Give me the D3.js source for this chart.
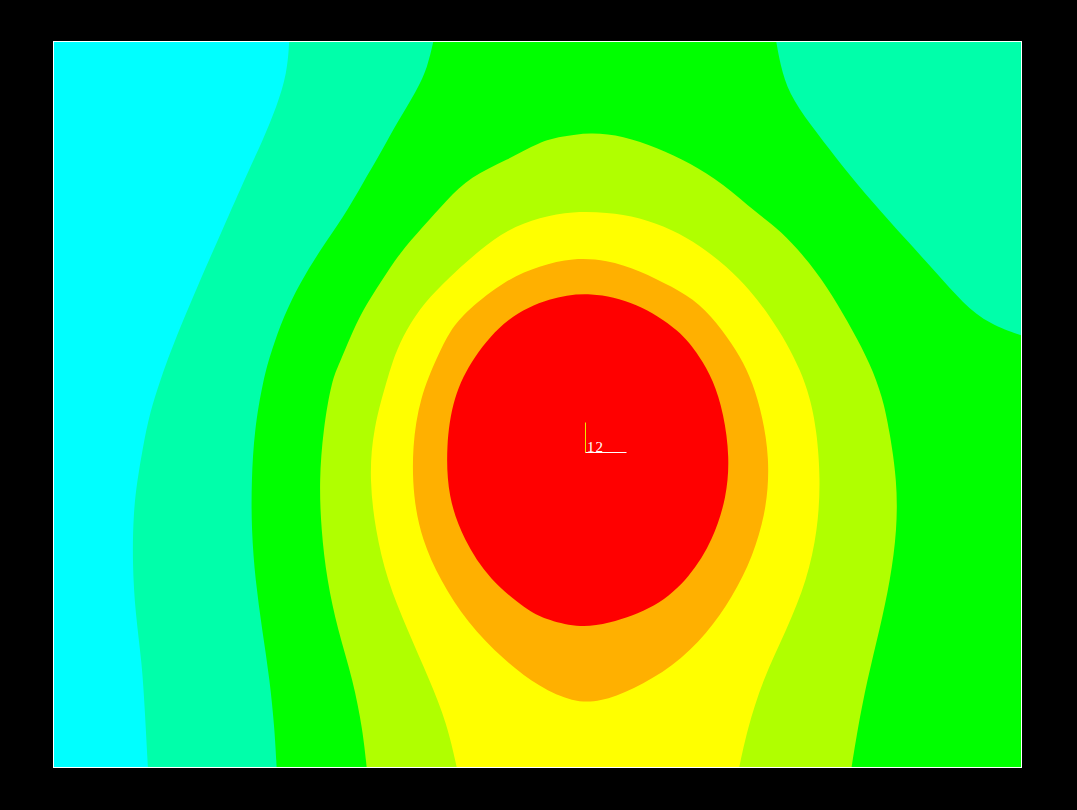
<!DOCTYPE html>
<html>
<head>
<meta charset="utf-8">
<script src="https://cdn.jsdelivr.net/npm/d3@7"></script>
<style>
  html, body { margin: 0; padding: 0; background: #000; }
  svg { display: block; }
</style>
</head>
<body>
<svg id="chart" width="1077" height="810"></svg>
<script>
// ---- Data (plot-space units: x 0..100, y 0..75, y downward) ----
const xDomain = [0, 100];
const yDomain = [0, 75];

// Band colours from lowest to highest
const bandColors = ["#00ffff", "#00ffaa", "#00ff00", "#b0ff00", "#ffff00", "#ffb000", "#ff0000"];

// cyan | aqua boundary (open, top edge -> bottom edge)
const cyanEdge = [[24.4,0],[24.2,3.3],[23.1,6.8],[21.7,10.2],[20.1,13.6],[17.5,19.5],[15.2,24.7],[12.3,31.6],[11.1,35.0],[10.0,38.4],[9.3,41.9],[8.7,45.4],[8.3,48.8],[8.2,53.9],[8.5,59.1],[9.2,64.3],[9.5,69.4],[9.8,75]];

// aqua | green boundary, left side (open, top -> bottom)
const aquaLeftEdge = [[39.3,0],[38.7,2.7],[37.6,5.1],[35.5,8.5],[34.0,11.3],[32.0,14.7],[30.0,18.2],[27.6,21.6],[25.5,25.0],[23.8,28.5],[22.6,31.9],[21.7,35.0],[20.8,40.2],[20.5,45.4],[20.5,50.5],[20.9,55.7],[21.6,60.8],[22.4,66.0],[22.9,71.2],[23.1,75]];

// aqua | green boundary, top-right corner (open, top edge -> right edge)
const aquaRightEdge = [[74.7,0],[75.3,3.3],[76.4,6.1],[78.9,9.5],[81.6,13.0],[84.7,16.7],[88.2,20.6],[91.3,24.0],[94.0,27.1],[96.8,29.3],[100,30.4]];

// green | yellow-green boundary (open, bottom edge -> around top -> bottom edge)
const ygEdge = [[32.4,75],[32.0,71.2],[31.0,66.0],[29.4,60.8],[28.3,55.7],[27.7,50.5],[27.5,45.4],[27.9,40.2],[28.8,35.0],[29.6,33.3],[30.7,30.6],[32.0,27.8],[33.8,25.0],[35.8,21.9],[38.2,19.2],[40.7,16.4],[43.1,14.0],[46.9,12.3],[50.3,10.4],[52.4,9.9],[55.5,9.4],[58.9,9.8],[62.4,11.0],[65.8,12.6],[69.2,14.7],[72.7,17.8],[75.1,19.5],[78.2,22.9],[80.6,26.4],[82.6,29.9],[84.4,33.3],[85.7,36.8],[86.4,40.2],[87.2,45.4],[87.2,50.5],[86.5,55.7],[85.4,60.8],[84.1,66.0],[83.1,71.2],[82.5,75]];

// yellow-green | yellow boundary (open, bottom -> around top -> bottom)
const yellowEdge = [[41.7,75],[40.7,70.5],[38.9,66.0],[36.6,60.8],[34.5,55.7],[33.3,50.5],[32.7,45.4],[33.0,40.2],[34.8,34.0],[35.5,31.9],[36.9,29.1],[38.9,26.4],[41.7,23.7],[44.1,21.6],[46.9,19.5],[50.3,18.2],[53.7,17.6],[57.2,17.7],[60.6,18.2],[64.0,19.5],[66.8,21.1],[69.6,23.3],[72.0,25.7],[74.1,28.5],[75.8,31.2],[77.2,34.0],[78.2,36.8],[78.9,40.2],[79.3,45.4],[79.0,50.5],[77.9,55.7],[75.8,60.8],[73.3,66.0],[71.7,71.2],[70.9,75]];

// yellow | orange boundary (closed)
const orangeEdge = [[50.3,23.2],[53.7,22.4],[57.2,22.6],[60.6,23.7],[64.0,25.4],[66.8,27.1],[69.2,29.9],[71.0,32.6],[72.3,35.3],[73.3,38.8],[74.0,43.0],[73.8,48.1],[72.3,53.3],[70.2,57.4],[67.6,61.2],[64.0,64.7],[59.9,67.0],[56.5,68.3],[53.7,68.3],[50.3,66.8],[46.5,63.9],[42.8,60.1],[40.0,55.7],[38.1,51.5],[37.2,47.1],[37.1,41.9],[37.9,36.8],[39.7,32.6],[41.0,29.9],[42.8,27.8],[46.7,24.7]];

// orange | red boundary (closed)
const redEdge = [[51.3,26.5],[55.5,25.9],[60.3,27.0],[64.8,29.9],[66.8,32.6],[68.2,35.0],[69.3,38.5],[69.9,43.0],[69.6,47.1],[68.2,51.5],[65.8,55.4],[62.4,58.5],[57.2,60.3],[54.1,60.6],[50.8,59.7],[49.0,58.8],[45.1,55.7],[42.4,51.5],[40.8,47.1],[40.6,41.9],[41.3,36.8],[43.4,32.6],[46.9,28.5]];

// station marker
const stationPos = [55.0, 42.5];
const stationLabels = ["12"];

// ---- Layout ----
const svg = d3.select("#chart");
const W = 1077, H = 810;
const plot = { left: 53, top: 41, width: 968, height: 726 };

svg.append("rect").attr("width", W).attr("height", H).attr("fill", "#000");

const x = d3.scaleLinear().domain(xDomain).range([plot.left, plot.left + plot.width]);
const y = d3.scaleLinear().domain(yDomain).range([plot.top, plot.top + plot.height]);

svg.append("defs").append("clipPath").attr("id", "clip")
  .append("rect").attr("x", plot.left).attr("y", plot.top)
  .attr("width", plot.width).attr("height", plot.height);

const g = svg.append("g").attr("clip-path", "url(#clip)");

const openLine = d3.line().x(d => x(d[0])).y(d => y(d[1])).curve(d3.curveBasis);
const closedLine = d3.line().x(d => x(d[0])).y(d => y(d[1])).curve(d3.curveBasisClosed);
const P = (a, b) => `L${x(a)},${y(b)}`;

// base: green band
g.append("rect").attr("x", plot.left).attr("y", plot.top)
  .attr("width", plot.width).attr("height", plot.height).attr("fill", bandColors[2]);

// aqua left band
g.append("path").attr("fill", bandColors[1])
  .attr("d", openLine(aquaLeftEdge) + P(-1, 76) + P(-1, -1) + P(aquaLeftEdge[0][0], -1) + "Z");

// cyan
g.append("path").attr("fill", bandColors[0])
  .attr("d", openLine(cyanEdge) + P(-1, 76) + P(-1, -1) + P(cyanEdge[0][0], -1) + "Z");

// aqua top-right
g.append("path").attr("fill", bandColors[1])
  .attr("d", openLine(aquaRightEdge) + P(101, aquaRightEdge[aquaRightEdge.length-1][1]) + P(101, -1) + P(aquaRightEdge[0][0], -1) + "Z");

// yellow-green
g.append("path").attr("fill", bandColors[3])
  .attr("d", openLine(ygEdge) + P(ygEdge[ygEdge.length-1][0], 76) + P(ygEdge[0][0], 76) + "Z");

// yellow
g.append("path").attr("fill", bandColors[4])
  .attr("d", openLine(yellowEdge) + P(yellowEdge[yellowEdge.length-1][0], 76) + P(yellowEdge[0][0], 76) + "Z");

// orange
g.append("path").attr("fill", bandColors[5]).attr("d", closedLine(orangeEdge));

// red
g.append("path").attr("fill", bandColors[6]).attr("d", closedLine(redEdge));

// frame
svg.append("rect")
  .attr("x", plot.left + 0.5).attr("y", plot.top + 0.5)
  .attr("width", plot.width).attr("height", plot.height)
  .attr("fill", "none").attr("stroke", "#fff").attr("stroke-width", 1);

// station marker
const sx = Math.round(x(stationPos[0])) + 0.5, sy = Math.round(y(stationPos[1])) + 0.5;
svg.append("line").attr("x1", sx).attr("x2", sx).attr("y1", sy - 30).attr("y2", sy)
  .attr("stroke", "#e8e800").attr("stroke-width", 1);
svg.append("line").attr("x1", sx).attr("x2", sx + 41).attr("y1", sy).attr("y2", sy)
  .attr("stroke", "#fff").attr("stroke-width", 1);
svg.append("text").attr("x", sx + 1.5).attr("y", sy - 0.5)
  .attr("fill", "#fff").attr("font-family", "Liberation Serif, DejaVu Serif, serif")
  .attr("font-size", 15).attr("letter-spacing", 1).text(stationLabels[0]);
</script>
</body>
</html>
